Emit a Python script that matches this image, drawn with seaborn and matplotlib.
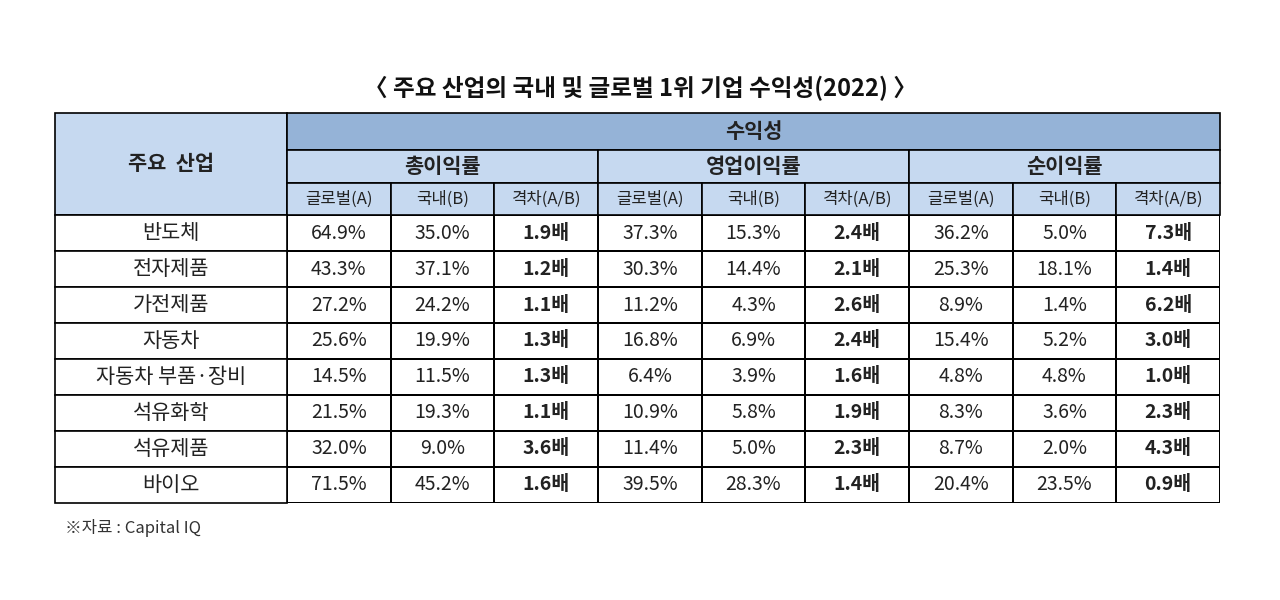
import numpy as np
import matplotlib.pyplot as plt
import seaborn as sns
from matplotlib.colors import ListedColormap
from matplotlib.patches import Rectangle

sns.set_theme(style="white")
plt.rcParams['font.family'] = ['Noto Sans CJK KR', 'DejaVu Sans']

industries = ["반도체", "전자제품", "가전제품", "자동차", "자동차 부품·장비",
              "석유화학", "석유제품", "바이오"]
groups = ["총이익률", "영업이익률", "순이익률"]
sub_labels = ["글로벌(A)", "국내(B)", "격차(A/B)"]

gross_global = [64.9, 43.3, 27.2, 25.6, 14.5, 21.5, 32.0, 71.5]
gross_domestic = [35.0, 37.1, 24.2, 19.9, 11.5, 19.3, 9.0, 45.2]
gross_gap = [1.9, 1.2, 1.1, 1.3, 1.3, 1.1, 3.6, 1.6]
op_global = [37.3, 30.3, 11.2, 16.8, 6.4, 10.9, 11.4, 39.5]
op_domestic = [15.3, 14.4, 4.3, 6.9, 3.9, 5.8, 5.0, 28.3]
op_gap = [2.4, 2.1, 2.6, 2.4, 1.6, 1.9, 2.3, 1.4]
net_global = [36.2, 25.3, 8.9, 15.4, 4.8, 8.3, 8.7, 20.4]
net_domestic = [5.0, 18.1, 1.4, 5.2, 4.8, 3.6, 2.0, 23.5]
net_gap = [7.3, 1.4, 6.2, 3.0, 1.0, 2.3, 4.3, 0.9]

cols = [gross_global, gross_domestic, gross_gap, op_global, op_domestic, op_gap,
        net_global, net_domestic, net_gap]
labels = np.empty((len(industries), len(cols)), dtype=object)
for j, c in enumerate(cols):
    for i, v in enumerate(c):
        labels[i, j] = f"{v:.1f}배" if j % 3 == 2 else f"{v:.1f}%"

W, H = 1280, 600
fig = plt.figure(figsize=(12.8, 6), dpi=100)
x0, x1, xl = 55, 1220, 287
y_top, y_h1, y_h2, y_h3, y_bot = 113, 150, 183, 215, 503

# data body
ax = fig.add_axes([xl / W, (H - y_bot) / H, (x1 - xl) / W, (y_bot - y_h3) / H])
sns.heatmap(np.zeros(labels.shape), cmap=ListedColormap(['white']), cbar=False,
            annot=labels, fmt='', linewidths=1.2, linecolor='black', ax=ax,
            annot_kws={'fontsize': 14, 'color': '#222222'})
for t, (i, j) in zip(ax.texts, np.ndindex(labels.shape)):
    if j % 3 == 2:
        t.set_fontweight('bold')
ax.set_xticks([])
ax.set_yticks([])

# overlay for header / label column
ov = fig.add_axes([0, 0, 1, 1])
ov.set_xlim(0, W)
ov.set_ylim(H, 0)
ov.axis('off')

dark = '#95b3d7'
light = '#c6d9f0'

def cell(x, y, w, h, text, fc='white', size=14, weight='normal', ls='-'):
    ov.add_patch(Rectangle((x, y), w, h, facecolor=fc, edgecolor='black', lw=1.2, ls=ls))
    ov.text(x + w / 2, y + h / 2, text, ha='center', va='center', fontsize=size,
            fontweight=weight, color='#222222')

cell(x0, y_top, xl - x0, y_h3 - y_top, "주요  산업", light, 15, 'bold')
cell(xl, y_top, x1 - xl, y_h1 - y_top, "수익성", dark, 15, 'bold')
gw = (x1 - xl) / 3
sw = gw / 3
for g, name in enumerate(groups):
    cell(xl + g * gw, y_h1, gw, y_h2 - y_h1, name, light, 15, 'bold')
    for s, sl in enumerate(sub_labels):
        cell(xl + g * gw + s * sw, y_h2, sw, y_h3 - y_h2, sl, light, 12)
rh = (y_bot - y_h3) / len(industries)
for i, name in enumerate(industries):
    cell(x0, y_h3 + i * rh, xl - x0, rh, name, 'white', 15)

ov.text(W / 2, 88, "〈 주요 산업의 국내 및 글로벌 1위 기업 수익성(2022) 〉", ha='center',
        va='center', fontsize=17, fontweight='bold', color='#111111')
ov.text(65, 528, "※자료 : Capital IQ", ha='left', va='center', fontsize=12, color='#333333')

fig.savefig('out.png', dpi=100, facecolor='white')
